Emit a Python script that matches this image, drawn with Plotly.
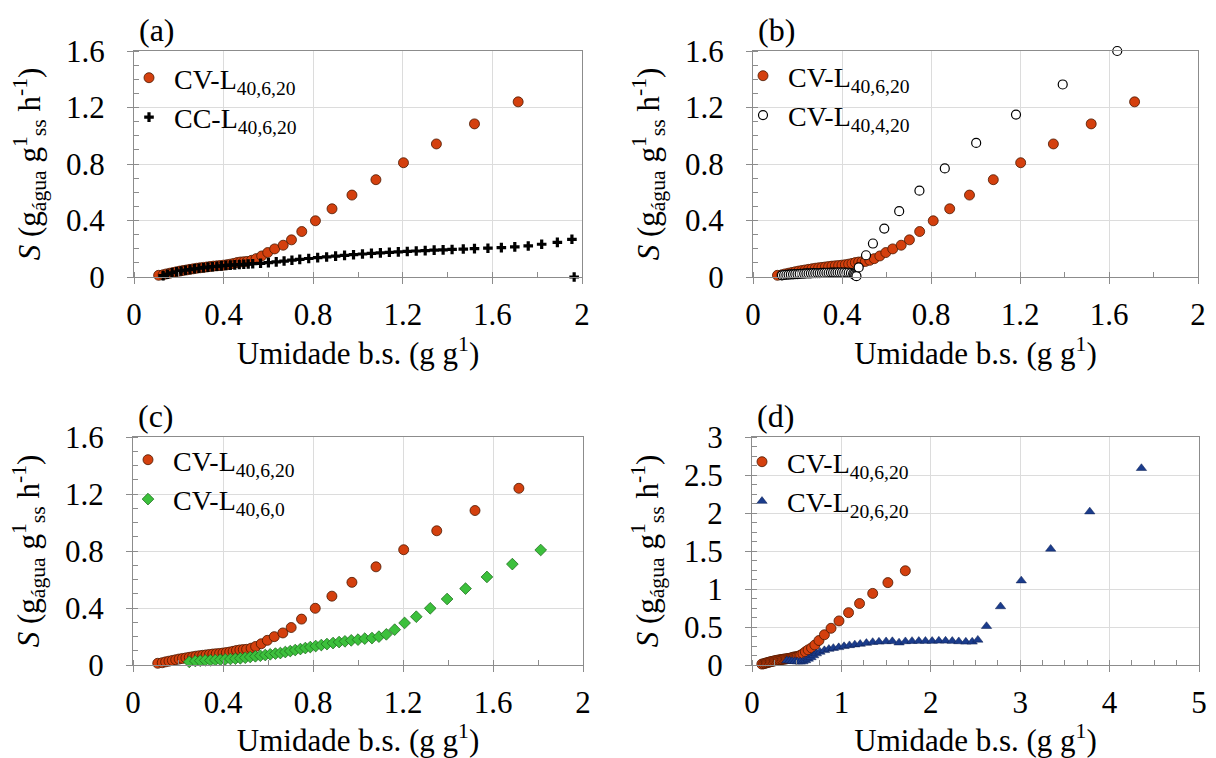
import plotly.graph_objects as go

# ---------------- data ----------------
# CV-L40,6,20 (shared reference series, red circles)
x_cv40620 = [0.11, 0.13, 0.145, 0.16, 0.175, 0.19, 0.205, 0.22, 0.235, 0.25, 0.265, 0.28, 0.295,
             0.31, 0.325, 0.34, 0.355, 0.37, 0.385, 0.40, 0.415, 0.43, 0.445, 0.46, 0.475, 0.49,
             0.505, 0.525, 0.545, 0.57, 0.597, 0.628, 0.666, 0.703, 0.749, 0.81, 0.884, 0.973,
             1.08, 1.203, 1.35, 1.52, 1.715]
y_cv40620 = [0.012, 0.016, 0.022, 0.027, 0.032, 0.037, 0.042, 0.046, 0.05, 0.054, 0.058, 0.062, 0.065,
             0.068, 0.071, 0.074, 0.077, 0.079, 0.081, 0.084, 0.087, 0.091, 0.096, 0.102, 0.106, 0.108,
             0.11, 0.118, 0.13, 0.149, 0.173, 0.199, 0.225, 0.263, 0.322, 0.398, 0.483, 0.58,
             0.689, 0.809, 0.942, 1.084, 1.24]

# CC-L40,6,20 (black crosses, panel a)
x_cc40620 = [0.13, 0.15, 0.17, 0.19, 0.21, 0.23, 0.25, 0.27, 0.29, 0.31, 0.33, 0.35, 0.37, 0.39, 0.41,
             0.43, 0.45, 0.47, 0.49, 0.51, 0.53, 0.565, 0.6, 0.635, 0.67, 0.705, 0.74, 0.78, 0.82,
             0.86, 0.9, 0.94, 0.98, 1.02, 1.06, 1.1, 1.14, 1.18, 1.22, 1.26, 1.3, 1.34, 1.38, 1.42,
             1.47, 1.52, 1.58, 1.64, 1.7, 1.76, 1.82, 1.89, 1.955, 1.965]
y_cc40620 = [0.01, 0.02, 0.03, 0.037, 0.043, 0.048, 0.053, 0.058, 0.062, 0.066, 0.07, 0.073, 0.076,
             0.079, 0.082, 0.084, 0.086, 0.088, 0.09, 0.092, 0.094, 0.097, 0.102, 0.107, 0.113,
             0.119, 0.125, 0.131, 0.137, 0.142, 0.148, 0.153, 0.158, 0.163, 0.167, 0.171, 0.175,
             0.178, 0.181, 0.184, 0.187, 0.19, 0.192, 0.195, 0.198, 0.201, 0.204, 0.208, 0.213,
             0.22, 0.232, 0.245, 0.267, 0.0]

# CV-L40,4,20 (open circles, panel b)
x_cv40420 = [0.13, 0.14, 0.15, 0.16, 0.17, 0.18, 0.19, 0.2, 0.21, 0.22, 0.23, 0.24, 0.25, 0.26, 0.27,
             0.28, 0.29, 0.3, 0.31, 0.32, 0.33, 0.34, 0.35, 0.36, 0.37, 0.38, 0.39, 0.4, 0.41, 0.42,
             0.43, 0.44, 0.45, 0.455, 0.46, 0.465, 0.475, 0.508, 0.539, 0.59, 0.657, 0.748, 0.862,
             1.003, 1.182, 1.392, 1.637]
y_cv40420 = [0.012, 0.014, 0.016, 0.017, 0.018, 0.019, 0.02, 0.021, 0.022, 0.023, 0.024, 0.025, 0.025,
             0.026, 0.027, 0.027, 0.028, 0.028, 0.029, 0.029, 0.03, 0.03, 0.031, 0.031, 0.031, 0.032,
             0.032, 0.032, 0.032, 0.031, 0.03, 0.028, 0.024, 0.018, 0.012, 0.006, 0.068, 0.154,
             0.237, 0.343, 0.466, 0.611, 0.769, 0.949, 1.15, 1.363, 1.6]

# CV-L40,6,0 (green diamonds, panel c)
x_cv4060 = [0.25, 0.277, 0.299, 0.321, 0.344, 0.366, 0.388, 0.41, 0.433, 0.455, 0.477, 0.499, 0.521,
            0.544, 0.566, 0.588, 0.61, 0.633, 0.655, 0.677, 0.699, 0.721, 0.744, 0.766, 0.788,
            0.812, 0.837, 0.862, 0.889, 0.916, 0.942, 0.97, 1.0, 1.03, 1.062, 1.093, 1.126, 1.163,
            1.207, 1.259, 1.321, 1.396, 1.478, 1.573, 1.686, 1.812]
y_cv4060 = [0.022, 0.028, 0.03, 0.033, 0.033, 0.035, 0.037, 0.04, 0.042, 0.044, 0.047, 0.051, 0.056,
            0.061, 0.065, 0.07, 0.075, 0.08, 0.084, 0.091, 0.098, 0.105, 0.112, 0.119, 0.126,
            0.133, 0.14, 0.147, 0.154, 0.161, 0.166, 0.173, 0.178, 0.185, 0.189, 0.199, 0.215, 0.248,
            0.295, 0.339, 0.398, 0.463, 0.536, 0.618, 0.708, 0.807]

# CV-L20,6,20 (blue triangles, panel d)
x_cv20620 = [0.39, 0.42, 0.45, 0.48, 0.51, 0.54, 0.57, 0.6, 0.63, 0.66, 0.69, 0.72, 0.76, 0.81, 0.86,
             0.91, 0.97, 1.03, 1.09, 1.15, 1.21, 1.28, 1.35, 1.42, 1.5, 1.57, 1.645, 1.716, 1.79,
             1.866, 1.94, 2.015, 2.09, 2.165, 2.24, 2.313, 2.392, 2.463, 2.526, 2.623, 2.78, 3.012,
             3.341, 3.778, 4.356]
y_cv20620 = [0.06, 0.055, 0.05, 0.048, 0.045, 0.042, 0.045, 0.06, 0.08, 0.1, 0.125, 0.15, 0.172, 0.193,
             0.21, 0.222, 0.232, 0.246, 0.258, 0.268, 0.276, 0.288, 0.3, 0.305, 0.31, 0.312, 0.294,
             0.31, 0.314, 0.315, 0.315, 0.315, 0.318, 0.318, 0.315, 0.31, 0.305, 0.305, 0.33, 0.51,
             0.77, 1.11, 1.527, 2.018, 2.589]

# ---------------- style ----------------
FONT = "Liberation Serif"
RED = "#d4400e"
RED_LINE = "#4a1800"
GREEN = "#3cc03c"
GREEN_LINE = "#1f6f1f"
BLUE = "#1b3c8c"
AXIS = "#8c8c8c"
GRID = "#dcdcdc"
TICK_SIZE = 31
LEG_SIZE = 28

red_name = "CV-L<sub>40,6,20</sub>"
xtitle = "Umidade b.s. (g g<sup>1</sup>)"
ytitle = "<i>S</i> (g<sub>água</sub> g<sup>1</sup><sub>ss</sub> h<sup>-1</sup>)"

W, H = 1216, 758
panels = [
    dict(ax="", xdom=[134, 582], ydom=[51, 277], xr=[0, 2], yr=[0, 1.6], xd=0.4, yd=0.4,
         xm=0.2, ym=0.1, label="(a)", legend="legend", lx=124, ly=53),
    dict(ax="2", xdom=[753, 1198], ydom=[51, 277], xr=[0, 2], yr=[0, 1.6], xd=0.4, yd=0.4,
         xm=0.2, ym=0.1, label="(b)", legend="legend2", lx=738, ly=51),
    dict(ax="3", xdom=[133, 583], ydom=[437, 665], xr=[0, 2], yr=[0, 1.6], xd=0.4, yd=0.4,
         xm=0.2, ym=0.1, label="(c)", legend="legend3", lx=123, ly=435),
    dict(ax="4", xdom=[752, 1199], ydom=[437, 665], xr=[0, 5], yr=[0, 3], xd=1, yd=0.5,
         xm=0.25, ym=0.125, label="(d)", legend="legend4", lx=737, ly=437),
]

second = [
    dict(x=x_cc40620, y=y_cc40620, name="CC-L<sub>40,6,20</sub>",
         marker=dict(symbol="cross", size=8, color="black", line=dict(width=0))),
    dict(x=x_cv40420, y=y_cv40420, name="CV-L<sub>40,4,20</sub>",
         marker=dict(symbol="circle", size=9, color="white", line=dict(width=1.2, color="black"))),
    dict(x=x_cv4060, y=y_cv4060, name="CV-L<sub>40,6,0</sub>",
         marker=dict(symbol="diamond", size=9, color=GREEN, line=dict(width=0.8, color=GREEN_LINE))),
    dict(x=x_cv20620, y=y_cv20620, name="CV-L<sub>20,6,20</sub>",
         marker=dict(symbol="triangle-up", size=9, color=BLUE, line=dict(width=0.5, color="#0d1f50"))),
]

fig = go.Figure()
layout = dict(
    width=W, height=H,
    margin=dict(l=0, r=0, t=0, b=0, autoexpand=False),
    paper_bgcolor="white", plot_bgcolor="white",
    font=dict(family=FONT, color="black", size=TICK_SIZE),
    annotations=[],
)

for i, p in enumerate(panels):
    xa = "x" + p["ax"]
    ya = "y" + p["ax"]
    fig.add_trace(go.Scatter(
        x=x_cv40620, y=y_cv40620, mode="markers", name=red_name,
        xaxis=xa, yaxis=ya, legend=p["legend"], legendgroup="r%d" % i,
        cliponaxis=False,
        marker=dict(symbol="circle", size=10, color=RED, line=dict(width=0.8, color=RED_LINE)),
    ))
    s = second[i]
    fig.add_trace(go.Scatter(
        x=s["x"], y=s["y"], mode="markers", name=s["name"],
        xaxis=xa, yaxis=ya, legend=p["legend"], legendgroup="s%d" % i,
        cliponaxis=False, marker=s["marker"],
    ))

    xkey = "xaxis" + p["ax"]
    ykey = "yaxis" + p["ax"]
    common = dict(
        showline=True, linecolor=AXIS, linewidth=1, mirror=True, automargin=False,
        showgrid=True, gridcolor=GRID, gridwidth=1, zeroline=False,
        ticks="outside", ticklen=6, tickcolor=AXIS, tickwidth=1,
        tickfont=dict(family=FONT, size=TICK_SIZE, color="black"),
    )
    layout[xkey] = dict(
        common, domain=[p["xdom"][0] / W, p["xdom"][1] / W],
        anchor=ya, range=p["xr"], tick0=0, dtick=p["xd"], ticklabelstandoff=4,
        minor=dict(ticks="inside", ticklen=5, tickcolor=AXIS, dtick=p["xm"], tick0=0, showgrid=False),
        title=dict(text=xtitle, font=dict(family=FONT, size=TICK_SIZE), standoff=4),
    )
    layout[ykey] = dict(
        common, domain=[1 - p["ydom"][1] / H, 1 - p["ydom"][0] / H],
        anchor=xa, range=p["yr"], tick0=0, dtick=p["yd"], ticklabelstandoff=16,
        minor=dict(ticks="inside", ticklen=5, tickcolor=AXIS, dtick=p["ym"], tick0=0, showgrid=False),
        title=dict(text=ytitle, font=dict(family=FONT, size=TICK_SIZE), standoff=16),
    )
    layout[p["legend"]] = dict(
        x=p["lx"] / W, y=1 - p["ly"] / H, xanchor="left", yanchor="top",
        bgcolor="rgba(0,0,0,0)", borderwidth=0, tracegroupgap=0, itemwidth=40,
        font=dict(family=FONT, size=LEG_SIZE, color="black"),
    )
    layout["annotations"].append(dict(
        text=p["label"], xref="paper", yref="paper",
        x=(p["xdom"][0] + 3) / W, y=1 - (p["ydom"][0] - 21) / H,
        xanchor="left", yanchor="middle", showarrow=False,
        font=dict(family=FONT, size=32, color="black"),
    ))

fig.update_layout(**layout)
fig.write_html("out.html")
